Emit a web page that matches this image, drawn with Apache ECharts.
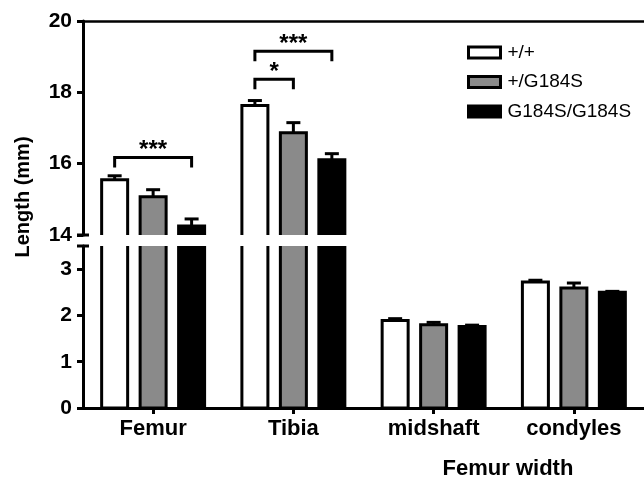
<!DOCTYPE html>
<html>
<head>
<meta charset="utf-8">
<script src="https://cdn.jsdelivr.net/npm/echarts@6/dist/echarts.min.js"></script>
<style>html,body{margin:0;padding:0;background:#fff}#c{width:644px;height:478px}</style>
</head>
<body>
<div id="c"></div>
<script>
// ---- data ----
const categories = ['Femur', 'Tibia', 'midshaft', 'condyles'];
const seriesNames = ['+/+', '+/G184S', 'G184S/G184S'];
const wtValues   = [15.55, 17.63, 1.89, 2.72];
const hetValues  = [15.07, 16.87, 1.80, 2.59];
const homValues  = [14.25, 16.11, 1.76, 2.50];
const wtErr  = [0.11, 0.14, 0.04, 0.04];
const hetErr = [0.20, 0.28, 0.05, 0.11];
const homErr = [0.20, 0.17, 0.03, 0.02];
const upperTicks = [14, 16, 18, 20];
const lowerTicks = [0, 1, 2, 3];
// significance brackets: category index, from series, to series, bracket height, label
const bracketCat   = [0, 1, 1];
const bracketFrom  = [0, 0, 0];
const bracketTo    = [2, 1, 2];
const bracketY     = [16.17, 18.37, 19.15];
const bracketLabel = ['***', '*', '***'];

// ---- style ----
const FONT = 'Liberation Sans';
const fills = ['#ffffff', '#8a8a8a', '#000000'];
const BAR_W = 26, BAR_GAP = 0.48;
const OFFSET = BAR_W * (1 + BAR_GAP);
const UPPER_MIN = 14, UPPER_MAX = 20, LOWER_MAX = 3.5;

const allValues = [wtValues, hetValues, homValues];
const allErr = [wtErr, hetErr, homErr];

const series = [];
// bars (custom so that the break clips the bars cleanly)
function makeBarRenderer(si) {
  return function (params, api) {
    const ci = api.value(0), v = api.value(1);
    const top = api.coord([ci, v]), base = api.coord([ci, 0]);
    const x = top[0] + (si - 1) * OFFSET - BAR_W / 2;
    return { type: 'rect', shape: { x: x, y: top[1], width: BAR_W, height: base[1] - top[1] },
      style: { fill: fills[si], stroke: '#000', lineWidth: 3 } };
  };
}
for (let g = 0; g < 2; g++) {
  allValues.forEach((vals, si) => {
    const d = [];
    vals.forEach((v, ci) => { if (g === 1 || v >= UPPER_MIN) d.push([ci, v]); });
    series.push({
      type: 'custom', name: seriesNames[si], xAxisIndex: g, yAxisIndex: g,
      data: d, renderItem: makeBarRenderer(si), clip: true, silent: true, z: 2,
      itemStyle: { color: fills[si], borderColor: '#000', borderWidth: 3 }
    });
  });
}
// error bars
function errData(upper) {
  const d = [];
  allValues.forEach((vals, si) => vals.forEach((v, ci) => {
    if (upper ? v >= UPPER_MIN : v + allErr[si][ci] <= LOWER_MAX) d.push([ci, si, v, allErr[si][ci]]);
  }));
  return d;
}
function renderErr(params, api) {
  const ci = api.value(0), si = api.value(1), v = api.value(2), e = api.value(3);
  const p = api.coord([ci, v]), q = api.coord([ci, v + e]);
  const x = p[0] + (si - 1) * OFFSET;
  const st = { stroke: '#000', lineWidth: 3 };
  return { type: 'group', children: [
    { type: 'line', shape: { x1: x, y1: p[1], x2: x, y2: q[1] }, style: st },
    { type: 'line', shape: { x1: x - 7, y1: q[1], x2: x + 7, y2: q[1] }, style: st }
  ]};
}
[0, 1].forEach(g => series.push({
  type: 'custom', xAxisIndex: g, yAxisIndex: g, data: errData(g === 0),
  renderItem: renderErr, clip: true, silent: true, z: 3
}));
// brackets
series.push({
  type: 'custom', xAxisIndex: 0, yAxisIndex: 0, silent: true, z: 4,
  data: bracketCat.map((c, i) => [c, bracketFrom[i], bracketTo[i], bracketY[i], i]),
  renderItem: function (params, api) {
    const c = api.value(0), f = api.value(1), t = api.value(2), y = api.value(3), i = api.value(4);
    const p = api.coord([c, y]);
    const x1 = p[0] + (f - 1) * OFFSET, x2 = p[0] + (t - 1) * OFFSET;
    const leg = 10;
    return { type: 'group', children: [
      { type: 'polyline', shape: { points: [[x1, p[1] + leg], [x1, p[1]], [x2, p[1]], [x2, p[1] + leg]] },
        style: { stroke: '#000', lineWidth: 3, fill: null } },
      { type: 'text', style: { x: (x1 + x2) / 2, y: p[1] + 5, text: bracketLabel[i], fill: '#000',
        font: 'bold 24px "' + FONT + '"', align: 'center', verticalAlign: 'bottom' } }
    ]};
  }
});

const axisLabelStyle = { color: '#000', fontFamily: FONT, fontWeight: 'bold', fontSize: 21 };
const lineStyle = { color: '#000', width: 3 };

const option = {
  animation: false,
  backgroundColor: '#fff',
  grid: [
    { left: 83, right: -7, top: 21, bottom: 478 - 235 },
    { left: 83, right: -7, top: 246, bottom: 478 - 408 }
  ],
  xAxis: [
    { type: 'category', gridIndex: 0, data: categories, position: 'top',
      axisLine: { show: true, lineStyle: { color: '#000', width: 2.5 } },
      axisTick: { show: false }, axisLabel: { show: false }, splitLine: { show: false } },
    { type: 'category', gridIndex: 1, data: categories, position: 'bottom',
      axisLine: { show: true, lineStyle: lineStyle },
      axisTick: { show: true, alignWithLabel: true, length: 6, lineStyle: lineStyle },
      axisLabel: Object.assign({}, axisLabelStyle, { margin: 10, fontSize: 22 }),
      splitLine: { show: false } }
  ],
  yAxis: [
    { type: 'value', gridIndex: 0, min: UPPER_MIN, max: UPPER_MAX, interval: 2,
      axisLine: { show: true, lineStyle: lineStyle },
      axisTick: { show: true, length: 6, lineStyle: lineStyle, customValues: upperTicks },
      axisLabel: Object.assign({ margin: 11, customValues: upperTicks }, axisLabelStyle),
      splitLine: { show: false } },
    { type: 'value', gridIndex: 1, min: 0, max: LOWER_MAX, interval: 1,
      axisLine: { show: true, lineStyle: lineStyle },
      axisTick: { show: true, length: 6, lineStyle: lineStyle, customValues: lowerTicks },
      axisLabel: Object.assign({ margin: 11, customValues: lowerTicks }, axisLabelStyle),
      splitLine: { show: false } }
  ],
  legend: {
    orient: 'vertical', left: 462, top: 38, itemWidth: 32, itemHeight: 11, itemGap: 10.5,
    icon: 'rect', selectedMode: false,
    data: seriesNames.map((n, si) => ({ name: n, icon: 'rect',
      itemStyle: { color: fills[si], borderColor: '#000', borderWidth: 3 } })),
    textStyle: { color: '#000', fontFamily: FONT, fontSize: 19, padding: [0, 0, 0, 2] }
  },
  graphic: [
    { type: 'text', x: 23, y: 197, rotation: Math.PI / 2,
      style: { text: 'Length (mm)', font: 'bold 20px "' + FONT + '"', fill: '#000', align: 'center', verticalAlign: 'middle' } },
    { type: 'text', x: 508, y: 469,
      style: { text: 'Femur width', font: 'bold 22px "' + FONT + '"', fill: '#000', align: 'center', verticalAlign: 'middle' } }
  ],
  series: series
};
const chart = echarts.init(document.getElementById('c'), null, { renderer: 'canvas' });
chart.setOption(option);
// axis-break caps at both ends of the y-axis break
const yUpperEnd = chart.convertToPixel({ yAxisIndex: 0 }, UPPER_MIN);
const yLowerEnd = chart.convertToPixel({ yAxisIndex: 1 }, LOWER_MAX);
const axisX = chart.convertToPixel({ xAxisIndex: 1 }, 0) - 142 / 2;
const gridLeft = option.grid[0].left;
chart.setOption({ graphic: option.graphic.concat([
  { type: 'line', shape: { x1: gridLeft - 6, y1: yUpperEnd, x2: gridLeft + 6, y2: yUpperEnd }, style: { stroke: '#000', lineWidth: 3 }, z: 10 },
  { type: 'line', shape: { x1: gridLeft - 6, y1: yLowerEnd, x2: gridLeft + 6, y2: yLowerEnd }, style: { stroke: '#000', lineWidth: 3 }, z: 10 }
]) });
</script>
</body>
</html>
